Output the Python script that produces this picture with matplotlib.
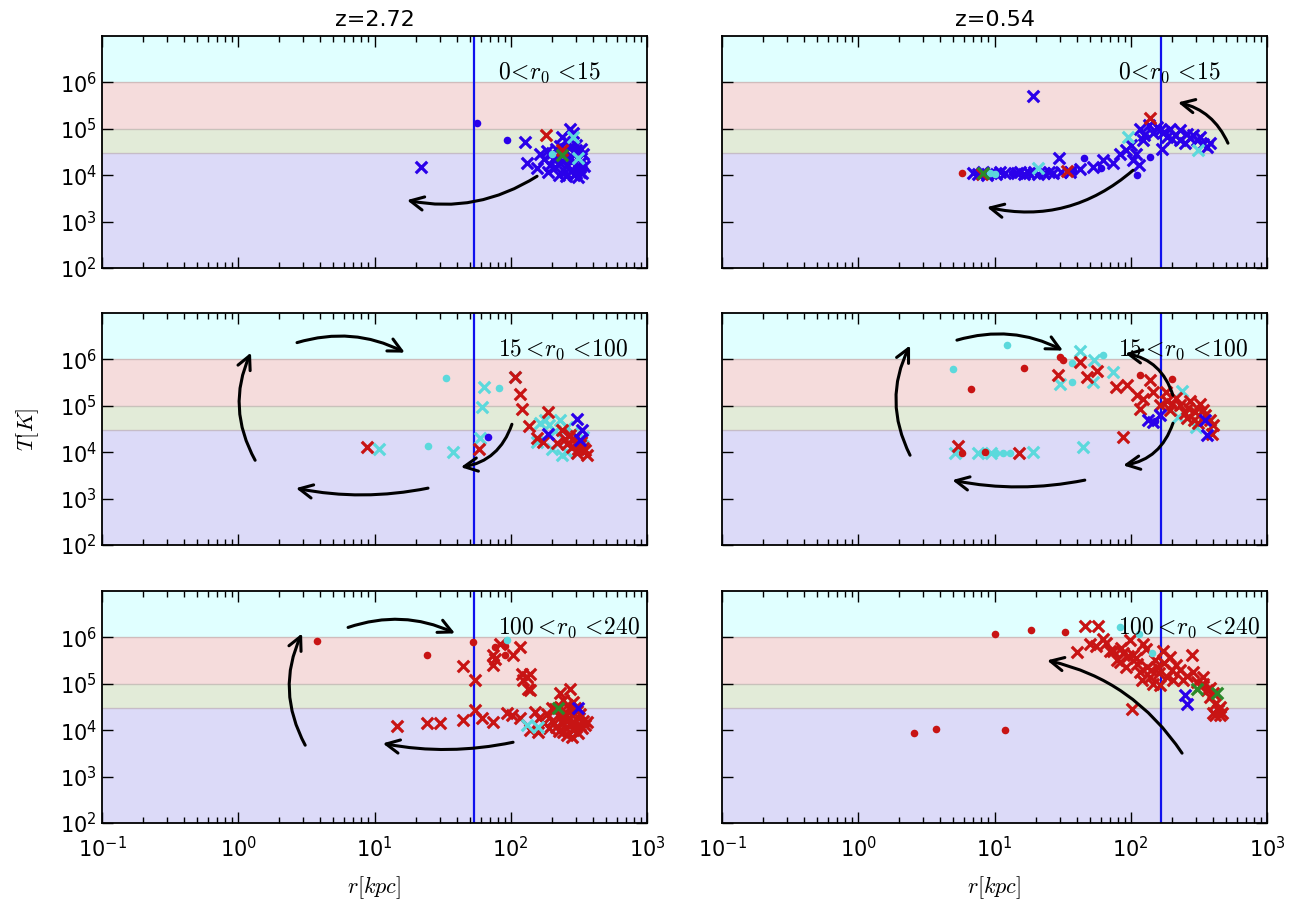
import matplotlib
matplotlib.use('Agg')
import matplotlib.pyplot as plt

plt.rcParams['mathtext.fontset'] = 'cm'
plt.rcParams['font.family'] = ['DejaVu Sans']

# ---------------- data (r [kpc], T [K]) ----------------
titles = ['z=2.72', 'z=0.54']
range_labels = [r'$0\!<\!r_0\,<\!15$', r'$15<\!r_0\,<\!100$', r'$100<\!r_0\,<\!240$']
vline_r = [54, 167]

band_edges = [1e2, 3e4, 1e5, 1e6, 1e7]
band_colors = ['#dcdaf8', '#e2ebd8', '#f5dcdc', '#e0ffff']

# top-left  (z=2.72, 0<r0<15)
tl_blue_x = [(21.8,1.5e4),(127,5.2e4),(132,1.8e4),(155,1.4e4),(187,1.15e4),(272,1.0e5),(238,6.6e4),
             (200,3.0e4),(220,2.5e4),(240,2.0e4),(260,1.6e4),(280,1.3e4),(300,1.1e4),(320,1.5e4),
             (310,2.2e4),(290,3.0e4),(270,4.0e4),(250,3.5e4),(230,1.8e4),(210,1.5e4),(330,1.9e4),
             (340,2.8e4),(300,4.5e4),(260,5.5e4),(230,4.2e4),(175,2.2e4),(165,2.8e4),(285,8.0e4),
             (250,1.2e4),(320,1.2e4),(345,1.6e4),(195,1.7e4),(275,2.4e4),(300,3.5e4),(240,2.8e4),
             (215,3.6e4),(330,3.7e4),(225,1.0e4),(255,9.5e3),(290,1.0e4),(310,9e3),(335,1.1e4),
             (205,2.2e4),(185,3.3e4)]
tl_blue_o = [(57,1.36e5),(94,5.7e4),(270,2.0e4),(300,1.5e4)]
tl_cyan_x = [(288,6.6e4),(310,2.3e4)]
tl_cyan_o = [(200,2.9e4)]
tl_red_x = [(181,7.3e4),(238,3.5e4)]
tl_green_x = [(238,2.7e4)]

# top-right (z=0.54, 0<r0<15)
tr_blue_x = [(19.3,5.2e5),(7.0,1.1e4),(7.6,1.05e4),(8.2,1.15e4),(8.8,1.0e4),(9.5,1.1e4),(10.3,1.05e4),
             (11.0,1.15e4),(12.0,1.1e4),(14.6,1.1e4),(15.5,1.15e4),(16.5,1.05e4),(18,1.1e4),
             (19.5,1.15e4),(21,1.05e4),(23,1.1e4),(25,1.15e4),(27,1.1e4),(29.7,2.3e4),(31,1.2e4),
             (36,1.15e4),(42.4,1.39e4),(53,1.5e4),(63,2.1e4),(74.5,1.8e4),(83,2.9e4),(93,3.5e4),
             (104,2.1e4),(114,1.64e4),(122,5.6e4),(169,3.7e4),(117,1.0e5),(135,1.2e5),(146,8e4),
             (163,9.4e4),(194,1.0e5),(211,7.2e4),(230,5.6e4),(257,7.9e4),(272,6.2e4),(305,5.6e4),
             (340,4.8e4),(362,4.1e4),(183,6.6e4),(230,9.4e4),(288,7.2e4),(125,7.5e4),(155,1.1e5),
             (175,8.5e4),(200,6.0e4),(250,5.0e4),(320,6.5e4),(380,5.0e4),(100,4.5e4),(110,2.8e4)]
tr_blue_o = [(45.6,2.3e4),(111,1.0e4),(138,2.5e4),(38,1.3e4),(60,1.4e4),(13.5,1.1e4)]
tr_cyan_x = [(20.9,1.4e4),(96,6.6e4),(313,3.5e4)]
tr_cyan_o = [(9.3,1.1e4),(10.0,1.05e4)]
tr_red_x = [(138,1.68e5),(34.2,1.23e4),(8.1,1.05e4)]
tr_red_o = [(5.8,1.1e4)]
tr_green_x = [(8.3,1.1e4)]

# middle-left (z=2.72, 15<r0<100)
ml_red_x = [(107,4.2e5),(117,1.8e5),(120,8.7e4),(137,3.6e4),(58,1.2e4),(8.8,1.3e4),(188,7.2e4),
            (155,2.0e4),(173,1.66e4),(217,1.55e4),(237,3.0e4),(272,2.3e4),(288,1.8e4),(323,1.4e4),
            (352,1.1e4),(364,8.7e3),(305,9.4e3),(280,1.3e4),(250,1.95e4),(330,1.7e4),(300,2.2e4),
            (260,1.5e4),(340,1.25e4),(310,1.15e4)]
ml_cyan_x = [(64,2.5e5),(61,9.4e4),(107,4.2e5),(59,2.0e4),(37.9,1.0e4),(10.8,1.2e4),(164,4.2e4),
             (178,4.9e4),(155,1.7e4),(200,1.2e4),(229,4.9e4),(258,3.5e4),(258,1.0e4),(236,8.7e3),
             (340,2.1e4),(302,1.55e4),(190,3.8e4),(210,2.8e4),(280,2.6e4)]
ml_cyan_o = [(33.3,4.0e5),(82,2.4e5),(24.6,1.35e4)]
ml_blue_x = [(189,2.5e4),(305,5.3e4),(331,3.0e4),(320,1.8e4)]
ml_blue_o = [(68,2.1e4)]

# middle-right (z=0.54, 15<r0<100)
mr_red_x = [(42.4,8.7e5),(56.2,5.6e5),(47.5,4.2e5),(29.4,4.5e5),(78,2.6e5),(93.4,2.75e5),(138,3.6e5),
            (111,1.68e5),(124,1.43e5),(146,2.0e5),(184,1.3e5),(164,1.02e5),(195,8e4),(230,1.02e5),
            (273,1.3e5),(323,1.1e5),(296,7.2e4),(352,6.3e4),(383,4.9e4),(257,5.4e4),(214,1.44e5),
            (181,1.96e5),(309,4.2e4),(264,8.9e4),(400,3.8e4),(116,8.7e4),(392,2.5e4),(87,2.1e4),
            (15.2,9.4e3),(5.4,1.35e4),(200,1.1e5),(250,7.0e4),(340,8.0e4),(290,5.0e4)]
mr_red_o = [(16.5,6.6e5),(6.7,2.26e5),(30.3,1.12e6),(32,9.5e5),(117,4.5e5),(200,3.85e5),
            (5.8,9.6e3),(8.5,1.0e4)]
mr_cyan_x = [(42.4,1.5e6),(53.7,9.8e5),(30.3,3.0e5),(53.1,3.2e5),(74.5,5.4e5),(237,2.1e5),
             (223,5.7e4),(44.9,1.3e4),(5.1,9.4e3),(7.6,9.6e3),(9.5,9.6e3),(19.3,1.0e4),(300,3.5e4)]
mr_cyan_o = [(12.3,2.0e6),(5.0,6.3e5),(36.9,8.5e5),(62.2,1.26e6),(36.9,3.2e5),(8.0,9.4e3),
             (10.2,9.5e3),(11.5,9.6e3),(13.0,9.5e3)]
mr_blue_x = [(134,4.9e4),(146,4.5e4),(164,6.3e4),(360,2.3e4),(350,4.9e4)]
mr_blue_o = [(150,4.6e4)]

# bottom-left (z=2.72, 100<r0<240)
bl_red_x = [(44.4,2.4e5),(54.7,1.19e5),(83.4,7.3e5),(74.5,4.1e5),(73.7,2.5e5),(76.6,3.5e5),(104,4.1e5),
            (117,6.2e5),(120,1.66e5),(131,1.4e5),(138,1.66e5),(124,1.19e5),(134,7.9e4),(138,7.3e4),
            (14.6,1.22e4),(24.2,1.44e4),(30.3,1.44e4),(44.4,1.7e4),(54.7,2.7e4),(61.2,1.79e4),
            (73.7,1.5e4),(93.4,2.3e4),(102,2.1e4),(117,1.79e4),(138,1.0e4),(159,9.1e3),(230,6.2e4),
            (272,7.9e4),(288,4.1e4),(243,4.4e4),(150,2.5e4),(160,1.8e4),(175,1.4e4),(185,2.2e4),
            (190,1.1e4),(200,1.6e4),(210,2.8e4),(215,1.2e4),(225,9.5e3),(230,1.9e4),(240,1.4e4),
            (245,2.4e4),(255,1.1e4),(260,8e3),(265,1.7e4),(270,1.3e4),(280,2.1e4),(285,1.0e4),
            (290,1.5e4),(300,1.2e4),(305,2.6e4),(310,8.5e3),(315,1.8e4),(325,1.3e4),(335,1.1e4),
            (340,1.6e4),(350,1.3e4),(230,3.2e4),(260,3.5e4),(200,3.0e4),(280,7e3),(250,1.9e4),
            (320,2.2e4),(295,3.0e4),(360,1.5e4),(240,9e3),(270,2.8e4)]
bl_red_o = [(3.8,8.2e5),(24.2,4.1e5),(53.1,8.0e5),(76.6,6.2e5),(90.7,6.4e5),(90.7,4.1e5)]
bl_cyan_o = [(93.4,8.6e5)]
bl_cyan_x = [(131,1.3e4),(159,1.18e4)]
bl_green_x = [(223,3.0e4)]
bl_blue_x = [(313,3.0e4)]

# bottom-right (z=0.54, 100<r0<240)
br_red_x = [(46.2,1.8e6),(57.8,1.8e6),(40.2,4.8e5),(50.2,7.3e5),(63,9.3e5),(74.5,5.2e5),(83.4,2.95e5),
            (98.7,8.6e5),(104,4.1e5),(124,7.3e5),(131,2.3e5),(138,1.4e5),(155,2.3e5),(173,5.2e5),
            (194,3.8e5),(205,1.19e5),(230,1.95e5),(243,1.19e5),(280,4.1e5),(305,1.1e5),(341,1.4e5),
            (361,7.2e4),(382,5.2e4),(415,3.75e4),(440,2.7e4),(452,2.1e4),(404,2.3e4),(103,2.9e4),
            (70.5,5.2e5),(79,3.2e5),(88,4.5e5),(93,2.3e5),(111,2.7e5),(117,1.8e5),(120,1.19e5),
            (146,1.0e5),(164,9.3e4),(184,1.4e5),(288,1.8e5),(341,1.0e5),(404,6.2e4),(452,3.2e4),
            (415,2.1e4),(465,2.3e4),(56,6.5e5),(66,7.5e5),(85,6.0e5),(110,3.6e5),(150,3.2e5),
            (160,1.7e5),(215,2.5e5),(260,1.5e5),(130,5.5e5),(200,2.0e5),(95,4.0e5),(140,2.0e5),
            (175,2.8e5),(320,9.0e4),(380,8.0e4)]
br_red_o = [(10,1.2e6),(18.4,1.47e6),(32.9,1.3e6),(2.58,8.7e3),(3.7,1.04e4),(11.9,1.0e4)]
br_cyan_o = [(83.4,1.66e6),(144,4.5e5),(114,1.2e6)]
br_blue_x = [(250,5.6e4),(257,3.75e4)]
br_green_x = [(305,7.9e4),(427,6.2e4)]

# arrows: (tail, head, curvature)
tl_arrows = [((156, 9.5e3), (17.3, 2.9e3), -0.2)]
tr_arrows = [((104, 1.28e4), (8.8, 2.05e3), -0.25), ((517, 4.9e4), (222, 3.7e5), 0.25)]
ml_arrows = [((2.7, 2.3e6), (16.7, 1.4e6), -0.2), ((1.33, 6.7e3), (1.24, 1.4e6), -0.25),
             ((24.7, 1.68e3), (2.65, 1.68e3), -0.1), ((102, 4.0e4), (43, 4.75e3), -0.3)]
mr_arrows = [((5.3, 2.6e6), (31.8, 1.55e6), -0.2), ((2.4, 8.6e3), (2.4, 2.0e6), -0.25),
             ((46, 2.5e3), (4.9, 2.5e3), -0.1), ((204, 1.68e5), (91, 1.35e6), 0.3),
             ((204, 4.2e4), (88, 5.2e3), -0.3)]
bl_arrows = [((3.1, 4.75e3), (2.94, 1.22e6), -0.25), ((6.4, 1.64e6), (39, 1.22e6), -0.2),
             ((104, 5.5e3), (11.5, 5.2e3), -0.1)]
br_arrows = [((238, 3.2e3), (24.3, 3.2e5), 0.2)]

BLUE = '#2a00ea'
RED = '#c81414'
CYAN = '#5cd9dc'
GREEN = '#2a8a2a'

panels = [
    [dict(series=[(tl_blue_x, BLUE, 'x'), (tl_blue_o, BLUE, 'o'), (tl_red_x, RED, 'x'),
                  (tl_cyan_x, CYAN, 'x'), (tl_cyan_o, CYAN, 'o'), (tl_green_x, GREEN, 'x')],
          arrows=tl_arrows),
     dict(series=[(tr_blue_x, BLUE, 'x'), (tr_blue_o, BLUE, 'o'), (tr_red_x, RED, 'x'),
                  (tr_red_o, RED, 'o'), (tr_cyan_x, CYAN, 'x'), (tr_cyan_o, CYAN, 'o'),
                  (tr_green_x, GREEN, 'x')],
          arrows=tr_arrows)],
    [dict(series=[(ml_cyan_x, CYAN, 'x'), (ml_cyan_o, CYAN, 'o'), (ml_red_x, RED, 'x'),
                  (ml_blue_x, BLUE, 'x'), (ml_blue_o, BLUE, 'o')],
          arrows=ml_arrows),
     dict(series=[(mr_cyan_x, CYAN, 'x'), (mr_cyan_o, CYAN, 'o'), (mr_red_x, RED, 'x'),
                  (mr_red_o, RED, 'o'), (mr_blue_x, BLUE, 'x'), (mr_blue_o, BLUE, 'o')],
          arrows=mr_arrows)],
    [dict(series=[(bl_red_x, RED, 'x'), (bl_red_o, RED, 'o'), (bl_cyan_x, CYAN, 'x'),
                  (bl_cyan_o, CYAN, 'o'), (bl_green_x, GREEN, 'x'), (bl_blue_x, BLUE, 'x')],
          arrows=bl_arrows),
     dict(series=[(br_red_x, RED, 'x'), (br_red_o, RED, 'o'), (br_cyan_o, CYAN, 'o'),
                  (br_blue_x, BLUE, 'x'), (br_green_x, GREEN, 'x')],
          arrows=br_arrows)],
]

fig = plt.figure(figsize=(13.07, 9.05), dpi=100)
fig.patch.set_facecolor('white')
W = 545 / 1307
H = 232 / 905
lefts = [102 / 1307, 722 / 1307]
bottoms = [(905 - 268) / 905, (905 - 545) / 905, (905 - 823) / 905]

for row in range(3):
    for col in range(2):
        ax = fig.add_axes([lefts[col], bottoms[row], W, H])
        ax.set_xscale('log')
        ax.set_yscale('log')
        ax.set_xlim(0.1, 1000)
        ax.set_ylim(1e2, 1e7)
        for lo, hi, c in zip(band_edges[:-1], band_edges[1:], band_colors):
            ax.axhspan(lo, hi, color=c, lw=0, zorder=0)
        for e in band_edges[1:-1]:
            ax.axhline(e, color='#b8a8a8', lw=1, alpha=0.6, zorder=0.5)
        ax.axvline(vline_r[col], color='#1010ee', lw=1.6, zorder=1)
        p = panels[row][col]
        for pts, color, mk in p['series']:
            rs = [q[0] for q in pts]
            ts = [q[1] for q in pts]
            if mk == 'x':
                ax.scatter(rs, ts, marker='x', s=68, linewidths=2.3, color=color, zorder=3)
            else:
                ax.scatter(rs, ts, marker='o', s=30, linewidths=0, color=color, zorder=3)
        for tail, head, rad in p['arrows']:
            ax.annotate('', xy=head, xytext=tail,
                        arrowprops=dict(arrowstyle='->', lw=2.2, color='black',
                                        connectionstyle='arc3,rad=%s' % rad,
                                        mutation_scale=24, shrinkA=0, shrinkB=0),
                        zorder=4)
        ax.text(0.727, 0.84, range_labels[row], transform=ax.transAxes,
                ha='left', va='center', fontsize=17, zorder=5)
        ax.set_xticks([0.1, 1, 10, 100, 1000])
        ax.set_yticks([1e2, 1e3, 1e4, 1e5, 1e6])
        ax.tick_params(which='both', direction='in', top=True, right=True, labelsize=15)
        ax.tick_params(which='major', length=8, width=1)
        ax.tick_params(which='minor', length=4, width=1)
        ax.tick_params(axis='x', pad=9)
        for s in ax.spines.values():
            s.set_linewidth(1.3)
        if col == 1:
            ax.tick_params(labelleft=False)
        if row < 2:
            ax.tick_params(labelbottom=False)
        else:
            ax.set_xlabel(r'$r[kpc]$', fontsize=16, labelpad=10)
        if row == 0:
            ax.set_title(titles[col], fontsize=16, pad=7)
        if row == 1 and col == 0:
            ax.set_ylabel(r'$T[K]$', fontsize=16, labelpad=14)

fig.savefig('out.png', dpi=100, facecolor='white')
